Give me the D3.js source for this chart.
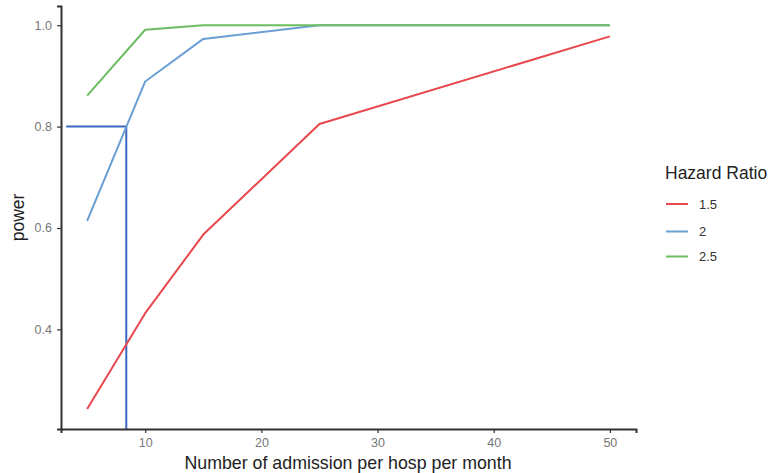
<!DOCTYPE html>
<html>
<head>
<meta charset="utf-8">
<script src="https://cdn.jsdelivr.net/npm/d3@7"></script>
<style>
  body { margin: 0; background: #fff; }
  svg { display: block; font-family: "Liberation Sans", Arial, sans-serif; }
</style>
</head>
<body>
<svg id="chart" width="769" height="473"></svg>
<script>
const admissions = [5, 10, 15, 25, 50];
const hazardRatios = ["1.5", "2", "2.5"];
const power_hr15 = [0.243, 0.432, 0.587, 0.805, 0.978];
const power_hr2  = [0.614, 0.889, 0.973, 1.0, 1.0];
const power_hr25 = [0.861, 0.991, 1.0, 1.0, 1.0];
const seriesColors = ["#e8474c", "#6a9fd3", "#6cbd62"];
const xTicks = [10, 20, 30, 40, 50];
const yTicks = [0.4, 0.6, 0.8, 1.0];
const targetPower = 0.8;
const targetAdmissions = 8.37;
const refStartX = 3.2;

const seriesValues = [power_hr15, power_hr2, power_hr25];
const series = hazardRatios.map((hr, i) => ({
  hr, color: seriesColors[i],
  points: admissions.map((a, j) => ({ x: a, y: seriesValues[i][j] }))
}));

const svg = d3.select("#chart");
const mLeft = 61, mRight = 636, mTop = 6, mBottom = 429;

const x = d3.scaleLinear().domain([2.75, 52.25]).range([mLeft, mRight]);
const y = d3.scaleLinear().domain([0.2035, 1.0379]).range([mBottom, mTop]);

// reference lines
svg.append("line")
  .attr("x1", x(refStartX)).attr("x2", x(targetAdmissions))
  .attr("y1", y(targetPower)).attr("y2", y(targetPower))
  .attr("stroke", "#3a66c4").attr("stroke-width", 2);
svg.append("line")
  .attr("x1", x(targetAdmissions)).attr("x2", x(targetAdmissions))
  .attr("y1", y(targetPower)).attr("y2", mBottom)
  .attr("stroke", "#3a66c4").attr("stroke-width", 2);

const line = d3.line().x(d => x(d.x)).y(d => y(d.y));
svg.selectAll("path.series").data(series).join("path")
  .attr("class", "series")
  .attr("d", d => line(d.points))
  .attr("fill", "none")
  .attr("stroke", d => d.color)
  .attr("stroke-width", 2)
  .attr("stroke-linejoin", "round");

// axes
const xAxis = svg.append("g").attr("transform", `translate(0,${mBottom})`)
  .call(d3.axisBottom(x).tickValues(xTicks).tickSize(4).tickPadding(5).tickFormat(d3.format("d")));
const yAxis = svg.append("g").attr("transform", `translate(${mLeft},0)`)
  .call(d3.axisLeft(y).tickValues(yTicks).tickSize(4).tickPadding(5).tickFormat(d3.format(".1f")));
[xAxis, yAxis].forEach(g => {
  g.select(".domain").attr("stroke", "#333").attr("stroke-width", 2);
  g.selectAll(".tick line").attr("stroke", "#333").attr("stroke-width", 1.2);
  g.selectAll(".tick text").attr("fill", "#777").style("font-size", "12.5px").style("font-family", "Liberation Sans, Arial, sans-serif");
});

// axis titles
svg.append("text")
  .attr("x", 348).attr("y", 469)
  .attr("text-anchor", "middle")
  .style("font-size", "17.8px").attr("fill", "#222")
  .text("Number of admission per hosp per month");
svg.append("text")
  .attr("transform", `translate(24,${(mTop + mBottom) / 2}) rotate(-90)`)
  .attr("text-anchor", "middle")
  .style("font-size", "17.5px").attr("fill", "#222")
  .text("power");

// legend
const legend = svg.append("g");
legend.append("text").attr("x", 665).attr("y", 179)
  .style("font-size", "17.5px").attr("fill", "#222").text("Hazard Ratio");
const legendY = [204, 231.5, 256.5];
series.forEach((s, i) => {
  legend.append("line").attr("x1", 666).attr("x2", 688)
    .attr("y1", legendY[i]).attr("y2", legendY[i])
    .attr("stroke", s.color).attr("stroke-width", 2);
  legend.append("text").attr("x", 699).attr("y", legendY[i] + 4.5)
    .style("font-size", "13px").attr("fill", "#333").text(s.hr);
});
</script>
</body>
</html>
